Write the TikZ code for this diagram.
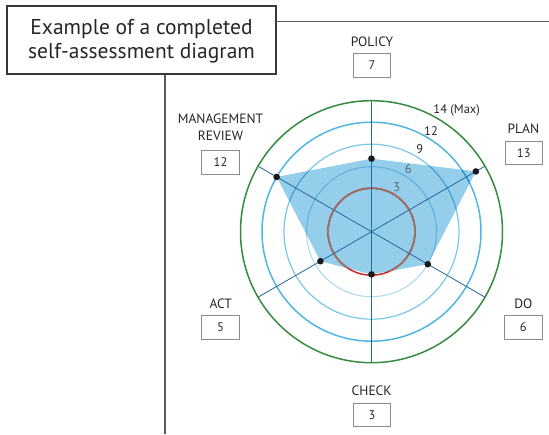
\documentclass[tikz,border=0pt]{standalone}
\usepackage{fontspec}
\setmainfont{PT Sans}
\definecolor{ringgreen}{RGB}{52,140,62}
\definecolor{ringtwelve}{RGB}{80,182,226}
\definecolor{ringnine}{RGB}{120,200,232}
\definecolor{ringsix}{RGB}{175,219,239}
\definecolor{redring}{RGB}{205,40,35}
\definecolor{brownring}{RGB}{165,110,100}
\definecolor{fillblue}{RGB}{148,206,234}
\definecolor{axisblue}{RGB}{35,105,155}
\definecolor{framegray}{RGB}{55,55,55}
\definecolor{layoutgray}{RGB}{90,90,90}
\definecolor{boxgray}{RGB}{140,140,140}
\definecolor{ringlabelgray}{RGB}{85,100,115}
\begin{document}
\begin{tikzpicture}[x=1pt,y=-1pt,
  titlebox/.style={draw=framegray, line width=1.3pt, minimum width=269pt, minimum height=68pt,
    inner sep=0pt},
  titletext/.style={align=center, inner sep=0pt, font=\fontsize{21.5}{24}\selectfont, text=black!85},
  layline/.style={draw=layoutgray, line width=1.1pt},
  lbl/.style={font=\fontsize{13.5}{16.5}\selectfont, text=black!85, inner sep=0pt, align=center},
  valbox/.style={draw=boxgray, line width=0.8pt, minimum width=37.5pt, minimum height=23.5pt,
    inner sep=0pt, font=\fontsize{12.5}{14}\selectfont, text=black!85},
  ringlbl/.style={font=\fontsize{12.5}{14}\selectfont, inner sep=0pt},
  axisline/.style={draw=axisblue, line width=0.8pt},
  datadot/.style={fill=black!90}
]
\useasboundingbox (0,0) rectangle (549,435);

% title and layout lines
\node[titlebox] (title) at (141.5,40) {};
\node[titletext] (titleText) at (141.5,41.5) {Example of a completed\\self-assessment diagram};
\coordinate (hstart) at (276,21.5);
\coordinate (hend) at (549,21.5);
\coordinate (vbot) at (165,434);
\draw[layline] (hstart) -- (hend);
\draw[layline] (title.south -| vbot) -- (vbot);

% centre
\coordinate (O) at (371.5,231.7);

% rings
\draw[ringgreen, line width=1.5pt] (O) circle[radius=131];
\draw[ringtwelve, line width=1.5pt] (O) circle[radius=109.5];
\draw[ringnine, line width=1.2pt] (O) circle[radius=87.5];
\draw[ringsix, line width=1.1pt] (O) circle[radius=65];
\draw[redring, line width=1.5pt] (O) circle[radius=43.5];

% axis ends
\path (O) ++(-90:131) coordinate (axPolicy);
\path (O) ++(-30:131) coordinate (axPlan);
\path (O) ++(30:131) coordinate (axDo);
\path (O) ++(90:131) coordinate (axCheck);
\path (O) ++(150:131) coordinate (axAct);
\path (O) ++(210:131) coordinate (axMR);

% data points
\path (O) ++(-90:73) coordinate (dPolicy);
\path (O) ++(-30:120.5) coordinate (dPlan);
\path (O) ++(30:65) coordinate (dDo);
\path (O) ++(90:42.7) coordinate (dCheck);
\path (O) ++(150:59) coordinate (dAct);
\path (O) ++(210:109.5) coordinate (dMR);

% filled polygon
\begin{scope}[blend mode=multiply]
\fill[fillblue] (dPolicy) -- (dPlan) -- (dDo) -- (dCheck) -- (dAct) -- (dMR) -- cycle;
\end{scope}
\begin{scope}
\clip (dPolicy) -- (dPlan) -- (dDo) -- (dCheck) -- (dAct) -- (dMR) -- cycle;
\draw[brownring, line width=1.7pt] (O) circle[radius=43.5];
\end{scope}

% axes
\draw[axisline] (axPolicy) -- (axCheck);
\draw[axisline] (axPlan) -- (axAct);
\draw[axisline] (axDo) -- (axMR);

% dots
\foreach \d in {dPolicy,dPlan,dDo,dCheck,dAct,dMR}
  \fill[datadot] (\d) circle[radius=3.3];

% ring labels
\node[ringlbl, text=ringlabelgray] (rl3) at (396.7,187.7) {3};
\node[ringlbl, text=ringlabelgray] (rl6) at (408.3,169.5) {6};
\node[ringlbl, text=black!85] (rl9) at (419.8,149.5) {9};
\node[ringlbl, text=black!85] (rl12) at (431,130.8) {12};
\node[ringlbl, text=black!85] (rl14) at (456.7,110.5) {14 (Max)};

% category labels and value boxes
\node[lbl] (lPolicy) at (372,41.7) {POLICY};
\node[valbox] (vPolicy) at (372,65.3) {7};
\node[lbl] (lMR) at (220.5,127.5) {MANAGEMENT\\REVIEW};
\node[valbox] (vMR) at (220.5,162.3) {12};
\node[lbl] (lPlan) at (523.3,128.8) {PLAN};
\node[valbox] (vPlan) at (523.8,153) {13};
\node[lbl] (lAct) at (220.7,304) {ACT};
\node[valbox] (vAct) at (220.5,327.5) {5};
\node[lbl] (lDo) at (523.3,304) {DO};
\node[valbox] (vDo) at (523.3,327.5) {6};
\node[lbl] (lCheck) at (371.7,390.7) {CHECK};
\node[valbox] (vCheck) at (372,415) {3};
\end{tikzpicture}
\end{document}
